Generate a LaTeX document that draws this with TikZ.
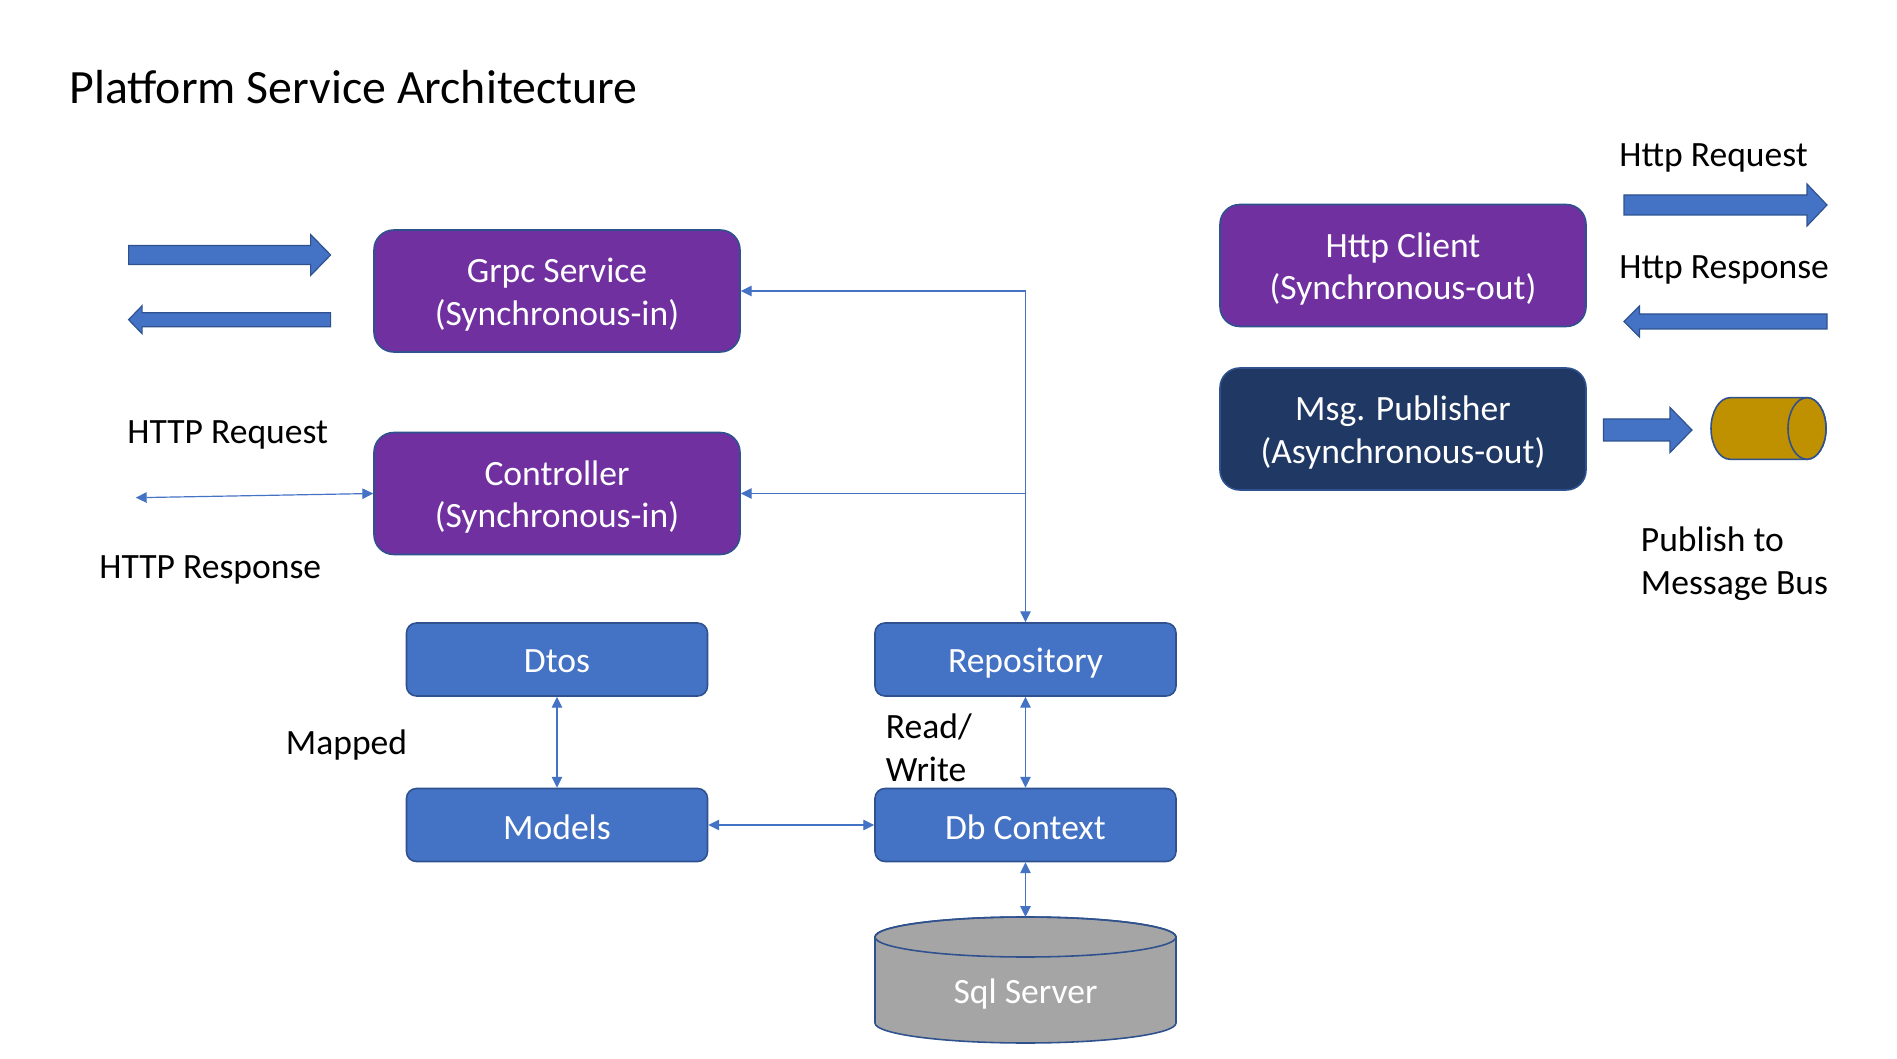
\documentclass[tikz,border=0pt]{standalone}
\usepackage{fontspec}
\setmainfont{Carlito}
\usetikzlibrary{arrows.meta}
\newlength\upx \setlength\upx{0.50606pt}
\definecolor{ppurple}{HTML}{7030A0}
\definecolor{pblue}{HTML}{4472C4}
\definecolor{pedge}{HTML}{2F528F}
\definecolor{pnavy}{HTML}{203864}
\definecolor{pgrey}{HTML}{A5A5A5}
\definecolor{pgold}{HTML}{BF9000}
\tikzset{
  txt/.style={font=\fontsize{18}{21.6}\selectfont},
  boxtxt/.style={txt, text=white, align=center, yshift=-1.8pt},
  smalltxt/.style={txt, text=white, align=center, yshift=-1.1pt},
  bigbox/.style={draw=pedge, line width=0.8pt, rounded corners=10pt,
    minimum width=366\upx, minimum height=122\upx},
  smallbox/.style={draw=pedge, fill=pblue, line width=0.8pt, rounded corners=5pt,
    minimum width=301\upx, minimum height=73\upx},
  lbl/.style={txt, anchor=west, inner sep=0pt, align=left, text=black},
  link/.style={draw=pblue, line width=0.6pt, >={Triangle[length=5.5pt,width=5.3pt]}},
  blockarrow/.style={fill=pblue, draw=pedge, line width=0.6pt, line join=miter},
}
\begin{document}
\begin{tikzpicture}[x=0.50606pt, y=-0.50606pt]
\useasboundingbox[fill=white] (0,0) rectangle (1897,1059);

% title
\node[lbl, font=\fontsize{24.2}{29}\selectfont] (title) at (69,87) {Platform Service Architecture};

% purple / navy boxes
\node[bigbox, fill=ppurple, label={[boxtxt]center:{Grpc Service\\(Synchronous-in)}}] (grpc) at (557,291) {};
\node[bigbox, fill=ppurple, label={[boxtxt]center:{Controller\\(Synchronous-in)}}] (ctrl) at (557,493.5) {};
\node[bigbox, fill=ppurple, label={[boxtxt]center:{Http Client\\(Synchronous-out)}}] (client) at (1403,265.5) {};
\node[bigbox, fill=pnavy, label={[boxtxt]center:{Msg. Publisher\\(Asynchronous-out)}}] (pub) at (1403,429) {};

% blue boxes
\node[smallbox, label={[smalltxt]center:Dtos}] (dtos) at (557,659.5) {};
\node[smallbox, label={[smalltxt]center:Models}] (models) at (557,825) {};
\node[smallbox, label={[smalltxt, yshift=-0.8pt]center:Repository}] (repo) at (1025.5,659.5) {};
\node[smallbox, label={[smalltxt]center:Db Context}] (db) at (1025.5,825) {};

% Sql Server cylinder
\filldraw[fill=pgrey, draw=pedge, line width=0.8pt]
  (875,937) -- (875,1023) arc[start angle=180, end angle=0, x radius=150.5, y radius=20]
  -- (1176,937) arc[start angle=0, end angle=-180, x radius=150.5, y radius=20] -- cycle;
\draw[pedge, line width=0.8pt] (1025.5,937) ellipse[x radius=150.5, y radius=20];
\node[txt, text=white] (sql) at (1025.5,993.6) {Sql Server};
\coordinate (sqltop) at (1025.5,917);

% message bus cylinder
\filldraw[fill=pgold, draw=pedge, line width=0.8pt]
  (1807,397.7) -- (1730,397.7) arc[start angle=-90, end angle=-270, x radius=19, y radius=30.8]
  -- (1807,459.3) arc[start angle=90, end angle=-90, x radius=19, y radius=30.8] -- cycle;
\filldraw[fill=pgold, draw=pedge, line width=0.8pt] (1807,428.5) ellipse[x radius=19, y radius=30.8];

% connectors
\coordinate (jg) at (grpc.east -| repo.north);
\coordinate (jc) at (ctrl.east -| repo.north);
\draw[link, ->] (jg) -- (grpc.east);
\draw[link, ->] (jc) -- (ctrl.east);
\draw[link, ->] (jg) -- (repo.north);
\draw[link, <->] (dtos) -- (models);
\draw[link, <->] (repo) -- (db);
\draw[link, <->] (models) -- (db);
\draw[link, <->] (db) -- (sqltop);
\coordinate (httpend) at (135.8,497.7);
\draw[link, <->] (httpend) -- (ctrl.west);

% block arrows
\draw[blockarrow] (128.6,245.5) -- (310.6,245.5) -- (310.6,234.5) -- (330.6,255) -- (310.6,275.5) -- (310.6,264.5) -- (128.6,264.5) -- cycle;
\draw[blockarrow] (330.6,312.7) -- (142.1,312.7) -- (142.1,305.7) -- (128.6,319.7) -- (142.1,333.7) -- (142.1,326.7) -- (330.6,326.7) -- cycle;
\draw[blockarrow] (1624,195) -- (1807,195) -- (1807,184) -- (1827,205) -- (1807,226) -- (1807,215) -- (1624,215) -- cycle;
\draw[blockarrow] (1827,314) -- (1639.5,314) -- (1639.5,306) -- (1624,321.5) -- (1639.5,337) -- (1639.5,329) -- (1827,329) -- cycle;
\draw[blockarrow] (1603.5,419) -- (1670,419) -- (1670,407.5) -- (1692,430) -- (1670,452.5) -- (1670,441) -- (1603.5,441) -- cycle;

% labels
\node[lbl] (lhreq) at (127,434.6) {HTTP Request};
\node[lbl] (lhres) at (99,569.6) {HTTP Response};
\node[lbl] (lmap) at (285.5,745.5) {Mapped};
\node[lbl] (lrw) at (885.5,747.5) {Read/\\Write};
\node[lbl] (lreq) at (1619,157.6) {Http Request};
\node[lbl] (lres) at (1619,269.6) {Http Response};
\node[lbl] (lpub) at (1640.5,563.6) {Publish to\\Message Bus};
\end{tikzpicture}
\end{document}
